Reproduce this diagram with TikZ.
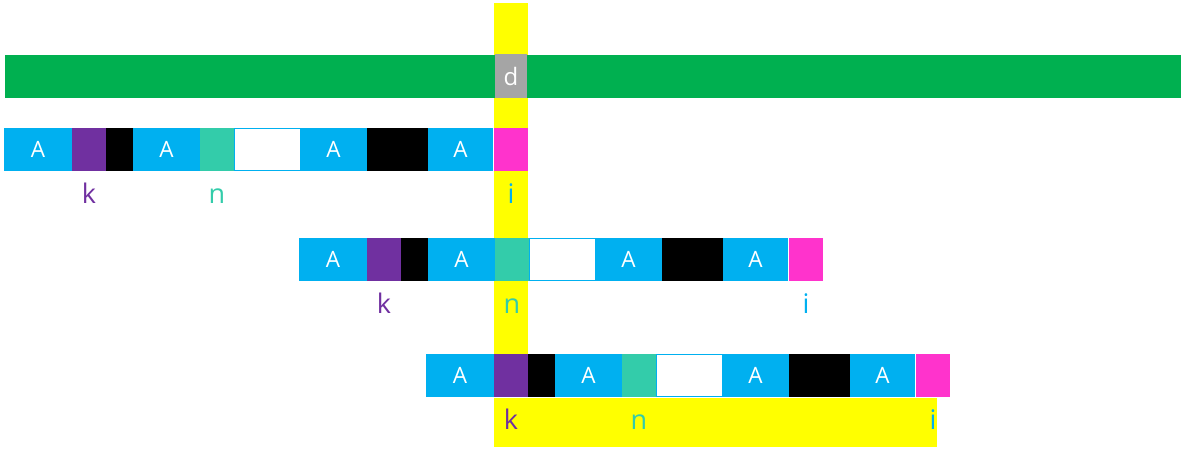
\documentclass[tikz,border=0pt]{standalone}
\usepackage{fontspec}
\setmainfont{Open Sans}
\definecolor{cgreen}{HTML}{00B050}
\definecolor{cblue}{HTML}{00B0F0}
\definecolor{cpurple}{HTML}{7030A0}
\definecolor{cteal}{HTML}{33CCAA}
\definecolor{cpink}{HTML}{FF33CC}
\definecolor{cyellow}{HTML}{FFFF00}
\definecolor{cgray}{HTML}{A5A5A5}
\newcommand\seqrow[3]{%
  \node[box,fill=cblue,minimum width=68pt] (#3a1) at (4+#1,#2) {A};
  \node[box,fill=cpurple,minimum width=34pt] (#3k) at (72+#1,#2) {};
  \node[box,fill=black,minimum width=27pt] (#3b1) at (106+#1,#2) {};
  \node[box,fill=cblue,minimum width=67pt] (#3a2) at (133+#1,#2) {A};
  \node[box,fill=cteal,minimum width=34pt] (#3n) at (200+#1,#2) {};
  \node[box,fill=white,draw=cblue,line width=0.8pt,minimum width=66pt,minimum height=42pt] (#3w) at (234+#1,#2+0.5) {};
  \node[box,fill=cblue,minimum width=67pt] (#3a3) at (300+#1,#2) {A};
  \node[box,fill=black,minimum width=61pt] (#3b2) at (367+#1,#2) {};
  \node[box,fill=cblue,minimum width=65pt] (#3a4) at (428+#1,#2) {A};
  \node[box,fill=cpink,minimum width=34pt] (#3i) at (494+#1,#2) {};
  \node[lbl,text=cpurple] (#3lk) at ([yshift=-22pt]#3k.south) {k};
  \node[lbl,text=cteal] (#3ln) at ([yshift=-22pt]#3n.south) {n};
  \node[lbl,text=cblue] (#3li) at ([yshift=-22pt]#3i.south) {i};
}
\begin{document}
\begin{tikzpicture}[x=1pt,y=-1pt,
  box/.style={anchor=north west,inner sep=0pt,outer sep=0pt,minimum height=43pt,
    text=white,font=\fontsize{22.5}{22.5}\selectfont},
  lbl/.style={inner sep=0pt,font=\fontsize{27}{27}\selectfont,text height=20pt,text depth=0pt}]
\useasboundingbox (0,0) rectangle (1184,455);
% highlight
\fill[cyellow] (494,3) rectangle (528,354);
\fill[cyellow] (494,398) rectangle (937,447);
% top bar
\node[box,fill=cgreen,minimum width=1176pt] (bar) at (5,55) {};
\node[box,fill=cgray,minimum width=32pt,minimum height=44pt,font=\fontsize{24}{24}\selectfont] (d) at (495,54) {d};
% rows
\seqrow{0}{128}{ra}
\seqrow{295}{238}{rb}
\seqrow{422}{354}{rc}
\end{tikzpicture}
\end{document}
